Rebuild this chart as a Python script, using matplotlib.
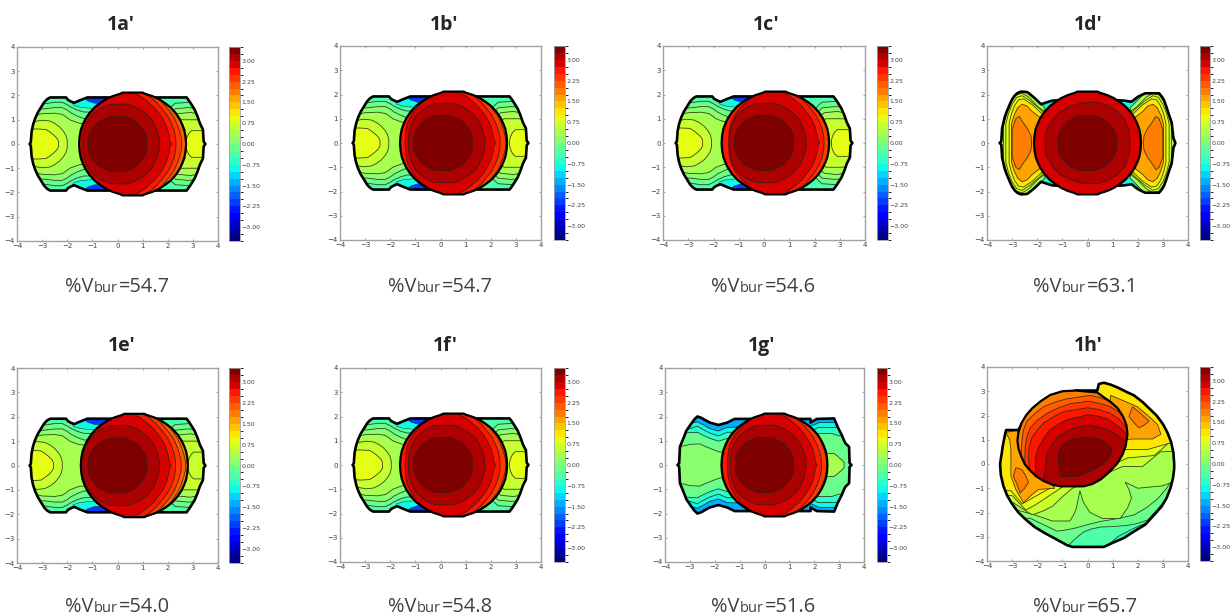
# coding:utf-8

import numpy as np
import matplotlib
matplotlib.use('Agg')
import matplotlib.pyplot as plt
from matplotlib.cm import ScalarMappable
from matplotlib.colors import BoundaryNorm
from matplotlib.ticker import FuncFormatter

# labels
TITLES = ["1a'", "1b'", "1c'", "1d'", "1e'", "1f'", "1g'", "1h'"]
VBUR = ["54.7", "54.7", "54.6", "63.1", "54.0", "54.8", "51.6", "65.7"]
LEVELS = np.arange(-3.5, 3.75, 0.25)
CBAR_TICKS = [3.0, 2.25, 1.5, 0.75, 0.0, -0.75, -1.5, -2.25, -3.0]
AXIS_TICKS = [-4, -3, -2, -1, 0, 1, 2, 3, 4]

# pixel boxes: left, right, top, bottom of plot, then colorbar left, right
BOXES = [
    (17, 218, 47, 241, 229, 240), (340, 541, 46, 240, 554, 565),
    (663, 865, 46, 240, 877, 888), (987, 1188, 46, 240, 1200, 1210),
    (17, 218, 368, 563, 229, 240), (340, 541, 368, 562, 554, 565),
    (665, 864, 368, 562, 877, 887), (987, 1188, 367, 561, 1200, 1210),
]
TITLE_POS = [(121, 25), (444, 25), (766, 25), (1088, 25),
             (122, 346), (445, 346), (762, 346), (1088, 346)]
LABEL_POS = [(118, 292), (441, 292), (764, 292), (1086, 292),
             (118, 612), (441, 612), (764, 612), (1086, 612)]

# central sphere, upper half, one set for panels a b c e f g
SPHERE_TOP = [(-2.13, 0), (-2.11, 0.3), (-2.06, 0.58), (-1.98, 0.8), (-1.88, 1.02), (-1.72, 1.27), (-1.5, 1.52),
              (-1.3, 1.68), (-1.05, 1.85), (-0.8, 1.97), (-0.5, 2.07), (-0.4, 2.12), (0.4, 2.12), (0.5, 2.07),
              (0.8, 1.97), (1.05, 1.85), (1.3, 1.68), (1.5, 1.52), (1.72, 1.27), (1.88, 1.02), (1.98, 0.8),
              (2.06, 0.58), (2.11, 0.3), (2.13, 0)]
CORE = [(-1.17, 0), (-1.15, 0.3), (-1.05, 0.55), (-0.9, 0.75), (-0.7, 0.95), (-0.5, 1.05), (-0.3, 1.13),
        (0.3, 1.13), (0.5, 1.05), (0.7, 0.95), (0.9, 0.75), (1.05, 0.55), (1.15, 0.3), (1.17, 0)]
RING_31 = [(-1.38, 0), (-1.36, 0.4), (-1.28, 0.75), (-1.1, 1.1), (-0.85, 1.35), (-0.6, 1.52), (-0.3, 1.63),
           (0.35, 1.65), (0.6, 1.58), (0.9, 1.42), (1.2, 1.2), (1.42, 0.92), (1.58, 0.55), (1.66, 0.2), (1.68, 0)]
RING_29 = [(-1.45, 0), (-1.43, 0.45), (-1.35, 0.85), (-1.15, 1.25), (-0.85, 1.6), (-0.55, 1.85), (-0.3, 2.05),
           (0.55, 2.15), (0.9, 1.98), (1.2, 1.75), (1.45, 1.52), (1.68, 1.22), (1.85, 0.95), (1.97, 0.68),
           (2.06, 0.35), (2.08, 0.15), (2.16, 0)]
RING_27 = [(-1.7, 0), (-1.7, 1.5), (-0.5, 2.3), (0.9, 2.2), (1.25, 1.98), (1.55, 1.72), (1.8, 1.42), (2.0, 1.15),
           (2.15, 0.85), (2.26, 0.55), (2.32, 0.25), (2.33, 0)]
RING_25 = [(-1.8, 0), (-1.8, 1.6), (-0.5, 2.4), (1.05, 2.25), (1.45, 2.02), (1.75, 1.75), (2.02, 1.42), (2.25, 1.1),
           (2.38, 0.8), (2.48, 0.5), (2.55, 0.2), (2.56, 0)]
RING_21 = [(-1.9, 0), (-1.9, 1.7), (-0.5, 2.5), (1.2, 2.3), (1.6, 2.05), (1.95, 1.75), (2.2, 1.42), (2.42, 1.1),
           (2.55, 0.8), (2.65, 0.5), (2.72, 0.2), (2.73, 0)]

SPHERE_X = [0.6, 0.52, 0.45, 0.0, 0.67, 0.52, 0.4]
CORE_X = [0.0, 0.1, 0.0, 0.0, 0.0, 0.1, 0.0]
RING_X = [0.0, 0.04, 0.05, 0.0, -0.02, 0.04, -0.04]

# side lobes shared by panels a b c e f
BODY_TOP = [(-3.5, 0), (-3.45, 0.07), (-3.42, 0.5), (-3.36, 0.8), (-3.28, 1.05), (-3.17, 1.3), (-3.05, 1.5),
            (-2.92, 1.72), (-2.8, 1.85), (-2.68, 1.92), (-2.05, 1.92), (-1.97, 1.82), (-1.85, 1.75), (-1.72, 1.7),
            (-1.5, 1.8), (-1.2, 1.92), (0, 1.92), (2.05, 1.92), (2.75, 1.92), (2.85, 1.78), (2.95, 1.62),
            (3.07, 1.42), (3.18, 1.15), (3.28, 0.85), (3.4, 0.6), (3.43, 0.1), (3.5, 0)]
NECK_BLUE = [(-1.35, 1.95), (-0.2, 1.95), (-0.2, 1.66), (-0.9, 1.68), (-1.2, 1.78)]
NECK_CYAN = [(-1.85, 1.8), (-1.35, 1.95), (-0.2, 1.95), (-0.2, 1.45), (-1.15, 1.48), (-1.5, 1.52), (-1.75, 1.6)]
BAND_M12 = [(-3.7, 1.62), (-2.9, 1.66), (-2.5, 1.72), (-2.2, 1.72), (-2.0, 1.62), (-1.85, 1.52), (-1.6, 1.4),
            (-1.35, 1.32), (0, 1.3), (2.05, 1.4), (2.15, 1.55), (2.3, 1.68), (2.9, 1.72), (3.7, 1.72)]
BAND_P12 = [(-3.7, 1.42), (-2.9, 1.45), (-2.5, 1.5), (-2.2, 1.5), (-2.0, 1.4), (-1.85, 1.28), (-1.6, 1.15),
            (-1.35, 1.05), (0, 1.0), (2.05, 1.15), (2.15, 1.3), (2.3, 1.45), (2.8, 1.5), (3.7, 1.45)]
BAND_P37 = [(-3.7, 1.1), (-3.3, 1.18), (-3.0, 1.25), (-2.5, 1.27), (-2.2, 1.22), (-2.05, 1.12), (-1.9, 1.0),
            (-1.7, 0.92), (-1.5, 0.85), (0, 0.8), (2.05, 0.9), (2.2, 1.1), (2.4, 1.25), (2.9, 1.3), (3.7, 1.15)]
LEFT_P62 = [(-3.8, 0.92), (-3.35, 0.92), (-3.0, 0.98), (-2.7, 0.95), (-2.5, 0.85), (-2.3, 0.7), (-2.15, 0.52),
            (-2.05, 0.35), (-2.0, 0.15), (-2.0, 0)]
LEFT_P87 = [(-3.8, 0.6), (-3.2, 0.62), (-2.85, 0.6), (-2.7, 0.5), (-2.55, 0.38), (-2.42, 0.25), (-2.35, 0.12),
            (-2.35, 0)]
RIGHT_P62 = [(3.8, 0.95), (3.1, 1.0), (2.5, 1.0), (2.25, 0.8), (2.2, 0)]
RIGHT_P87 = [(3.8, 0.55), (3.3, 0.55), (2.95, 0.55), (2.85, 0.45), (2.78, 0.32), (2.72, 0.12), (2.72, 0)]
LEFT_X = [0.0, -0.06, -0.08, 0.0, -0.2, 0.04]
RIGHT_X = [0.0, 0.03, -0.05, 0.0, 0.08, 0.03]
RIGHT_CAP = [0.875, 0.875, 0.875, 0.0, 0.625, 0.875]

# panel g
G_BODY = [(-3.5, 0), (-3.43, 0.07), (-3.4, 0.75), (-3.3, 1.0), (-3.22, 1.2), (-3.15, 1.4), (-3.05, 1.55), (-2.95, 1.7),
          (-2.82, 1.88), (-2.7, 2.0), (-2.55, 1.95), (-2.38, 1.85), (-2.2, 1.75), (-1.85, 1.65), (-1.5, 1.75),
          (-1.2, 1.9), (0, 1.9), (1.85, 1.9), (1.85, 1.75), (2.1, 1.9), (2.8, 1.92), (2.88, 1.72), (2.95, 1.55),
          (3.1, 1.25), (3.18, 1.05), (3.25, 0.9), (3.4, 0.75), (3.42, 0.08), (3.5, 0)]
G_M87 = [(-3.7, 1.7), (-2.95, 1.72), (-2.7, 1.78), (-2.45, 1.65), (-2.2, 1.5), (-1.85, 1.4), (-1.5, 1.55), (0, 1.6),
         (1.85, 1.6), (2.05, 1.68), (2.2, 1.75), (2.8, 1.75), (3.7, 1.7)]
G_M62 = [(-3.7, 1.5), (-3.0, 1.5), (-2.7, 1.6), (-2.45, 1.45), (-2.2, 1.32), (-1.85, 1.2), (-1.5, 1.35), (1.85, 1.35),
         (2.0, 1.45), (2.15, 1.55), (2.8, 1.55), (3.7, 1.5)]
G_M12 = [(-3.7, 1.3), (-3.1, 1.33), (-2.7, 1.35), (-2.45, 1.22), (-2.2, 1.1), (-1.85, 0.98), (-1.5, 1.1), (1.85, 1.1),
         (2.0, 1.2), (2.15, 1.3), (2.7, 1.3), (3.0, 1.2), (3.7, 1.2)]
G_LEFT = [(-3.7, 0.75), (-3.4, 0.75), (-3.2, 0.8), (-3.0, 0.85), (-2.6, 0.87), (-2.35, 0.75), (-2.1, 0.65),
          (-1.85, 0.55), (-1.6, 0.5), (-1.6, 0)]
G_RIGHT = [(2.5, 0), (2.5, 0.47), (2.8, 0.47), (2.92, 0.38), (3.0, 0.3), (3.12, 0.2), (3.2, 0.1), (3.2, 0)]

# panel d
D_BODY = [(-3.5, 0), (-3.43, 0.07), (-3.4, 0.6), (-3.3, 1.05), (-3.22, 1.28), (-3.15, 1.45), (-3.07, 1.65),
          (-3.0, 1.8), (-2.9, 1.95), (-2.8, 2.05), (-2.65, 2.12), (-2.4, 2.1), (-2.25, 1.98), (-2.1, 1.85),
          (-1.85, 1.6), (-1.7, 1.65), (-1.4, 1.75), (0, 1.8), (1.45, 1.75), (1.75, 1.7), (2.0, 1.9), (2.15, 1.98),
          (2.3, 2.05), (2.85, 2.05), (2.97, 1.9), (3.05, 1.75), (3.13, 1.52), (3.2, 1.3), (3.28, 1.05), (3.35, 0.85),
          (3.42, 0.2), (3.5, 0)]
D_RING_31 = [(-1.7, 0), (-1.65, 0.5), (-1.4, 0.95), (-1.1, 1.3), (-0.6, 1.55), (-0.1, 1.68), (0.4, 1.68),
             (0.8, 1.55), (1.2, 1.3), (1.5, 0.95), (1.65, 0.5), (1.7, 0)]
D_LOBE_37 = [(-3.6, 0), (-3.6, 2.2), (-2.4, 2.2), (-1.7, 1.45), (-1.7, 0)]
D_LOBE_62 = [(-3.34, 0), (-3.34, 0.75), (-3.2, 1.25), (-3.05, 1.7), (-2.85, 1.98), (-2.6, 2.05), (-2.35, 1.9),
             (-1.95, 1.48), (-1.7, 1.3), (-1.7, 0)]
D_LOBE_87 = [(-3.25, 0), (-3.25, 0.8), (-3.15, 1.2), (-3.0, 1.6), (-2.82, 1.88), (-2.6, 1.95), (-2.3, 1.75),
             (-1.9, 1.4), (-1.7, 1.2), (-1.7, 0)]
D_LOBE_112 = [(-3.12, 0), (-3.12, 0.8), (-3.03, 1.2), (-2.9, 1.55), (-2.75, 1.78), (-2.55, 1.82), (-2.2, 1.58),
              (-1.7, 1.1), (-1.7, 0)]
D_LOBE_162 = [(-3.02, 0), (-3.02, 0.8), (-2.92, 1.15), (-2.78, 1.45), (-2.6, 1.6), (-2.4, 1.52), (-2.2, 1.3),
              (-1.7, 0.9), (-1.7, 0)]
D_LOBE_187 = [(-3.0, 0), (-3.0, 0.55), (-2.92, 0.8), (-2.85, 1.0), (-2.72, 1.1), (-2.6, 0.9), (-2.48, 0.72),
              (-2.38, 0.58), (-2.25, 0.3), (-2.22, 0)]

# panel h, no symmetry here
H_BODY = [(-3.48, 0), (-3.42, 0.4), (-3.37, 0.76), (-3.28, 1.23), (-3.24, 1.4), (-2.75, 1.4), (-2.6, 1.7), (-0.48, 3.03),
          (0.39, 3.03), (0.45, 3.3), (0.65, 3.35), (0.9, 3.28), (1.19, 3.16), (1.5, 3.0), (1.85, 2.83), (2.2, 2.55),
          (2.5, 2.25), (2.75, 2.0), (3.0, 1.65), (3.18, 1.3), (3.33, 0.9), (3.42, 0.45), (3.45, 0), (3.45, -0.2),
          (3.4, -0.6), (3.3, -1.0), (3.15, -1.4), (2.95, -1.75), (2.65, -2.1), (2.3, -2.5), (1.9, -2.75), (1.45, -3.05),
          (1.0, -3.25), (0.65, -3.42), (-0.6, -3.42), (-0.81, -3.35), (-1.25, -3.1), (-1.7, -2.85), (-2.1, -2.6),
          (-2.45, -2.3), (-2.75, -2.0), (-3.0, -1.65), (-3.2, -1.3), (-3.35, -0.9), (-3.45, -0.45)]
H_SPHERE = [(-0.48, 3.03), (-1.0, 3.0), (-1.48, 2.85), (-1.85, 2.6), (-2.2, 2.3), (-2.45, 2.0), (-2.62, 1.7), (-2.75, 1.3),
            (-2.79, 0.96), (-2.75, 0.65), (-2.65, 0.35), (-2.5, 0), (-2.3, -0.25), (-2.05, -0.5), (-1.75, -0.7),
            (-1.4, -0.85), (-1.08, -0.92), (-0.15, -0.92), (0.2, -0.82), (0.52, -0.64), (0.85, -0.35), (1.19, 0.03),
            (1.4, 0.4), (1.52, 0.75), (1.59, 1.23), (1.55, 1.6), (1.42, 1.95), (1.2, 2.3), (0.92, 2.56), (0.65, 2.75),
            (0.39, 2.95)]
H_CORE = [(-1.15, 0.49), (-1.05, 0.68), (-0.95, 0.83), (-0.75, 0.95), (-0.55, 1.03), (-0.08, 1.12), (0.39, 1.03),
          (0.6, 0.95), (0.79, 0.83), (0.9, 0.72), (0.99, 0.56), (0.9, 0.38), (0.79, 0.16), (0.55, -0.05), (0.25, -0.24),
          (-0.1, -0.4), (-0.41, -0.51), (-1.08, -0.51), (-1.15, 0.03)]
H_S31 = [(-1.75, -0.65), (-1.68, -0.17), (-1.61, 0.43), (-1.45, 0.75), (-1.21, 1.09), (-0.9, 1.3), (-0.55, 1.49), (0.05, 1.6),
         (0.45, 1.52), (0.79, 1.43), (1.05, 1.27), (1.32, 1.09), (1.7, 0.76), (1.0, -1.2), (-1.75, -1.2)]
H_S29 = [(-2.05, -0.55), (-2.08, 0.03), (-2.05, 0.35), (-1.95, 0.69), (-1.75, 1.05), (-1.48, 1.43), (-1.15, 1.65), (-0.81, 1.83),
         (0, 2.03), (0.4, 1.98), (0.79, 1.87), (1.15, 1.62), (1.45, 1.36), (1.9, 0.8), (1.0, -1.2), (-2.05, -1.2)]
H_S27 = [(-2.3, -0.3), (-2.35, 0.29), (-2.32, 0.7), (-2.21, 1.09), (-2.0, 1.4), (-1.75, 1.69), (-1.35, 1.95), (-0.95, 2.16),
         (0, 2.32), (0.45, 2.25), (0.92, 2.09), (1.25, 1.85), (1.45, 1.6), (1.9, 1.0), (1.0, -1.2), (-2.3, -1.2)]
H_S24 = [(-2.5, 0), (-2.48, 0.69), (-2.42, 1.1), (-2.28, 1.49), (-2.0, 1.8), (-1.61, 2.09), (-1.15, 2.32), (-0.68, 2.49),
         (0.05, 2.59), (0.5, 2.5), (0.92, 2.36), (1.3, 2.1), (1.6, 1.8), (1.9, 1.2), (1.0, -1.2), (-2.5, -1.2)]
H_S21 = [(-2.65, 0.35), (-2.61, 0.96), (-2.55, 1.4), (-2.41, 1.76), (-2.1, 2.08), (-1.75, 2.36), (-1.3, 2.55), (-0.81, 2.69),
         (0.12, 2.83), (0.45, 2.75), (0.79, 2.63), (1.2, 2.35), (1.6, 2.0), (1.9, 1.3), (1.0, -1.2), (-2.65, -1.2)]
H_M37 = [(0.65, -3.5), (1.2, -3.0), (1.85, -2.65), (2.5, -2.35), (3.6, -1.2), (4, 4), (-4, 4), (-4, -4)]
H_M12 = [(-0.81, -3.4), (-0.45, -3.05), (-0.15, -2.8), (0.15, -2.68), (0.52, -2.6), (1.0, -2.58), (1.59, -2.53), (2.0, -2.45),
         (2.39, -2.31), (2.8, -1.85), (3.19, -1.37), (4, -1), (4, 4), (-4, 4), (-4, -4)]
H_P12 = [(-2.28, -2.24), (-1.75, -2.5), (-1.21, -2.77), (-0.85, -2.72), (-0.48, -2.64), (0.0, -2.5), (0.52, -2.37), (1.2, -2.25),
         (1.85, -2.1), (2.35, -1.8), (2.79, -1.44), (3.15, -1.0), (3.45, -0.5), (4, -0.4), (4, 4), (-4, 4), (-4, -2.2)]
H_P37 = [(-2.8, -1.9), (-2.45, -2.0), (-2.1, -2.1), (-1.4, -2.35), (-0.7, -2.35), (-0.55, -2.1), (-0.45, -1.85), (-0.3, -1.1),
         (-0.22, -1.4), (-0.15, -1.6), (0.1, -2.0), (0.6, -2.25), (1.3, -2.25), (1.6, -1.8), (1.75, -1.4), (1.65, -1.05),
         (1.5, -0.75), (2.0, -1.0), (3.0, -0.9), (4, -0.5), (4, 4), (-4, 4), (-4, -1.9)]
H_P62 = [(-2.95, -1.6), (-2.2, -2.1), (-1.8, -1.95), (-1.4, -1.75), (-1.0, -1.35), (-0.6, -1.0), (1.4, -0.1), (2.2, -0.1), (2.55, 0.2),
         (2.9, 0.5), (4, 0.55), (4, 4), (-4, 4), (-4, -1.6)]
H_P87 = [(-3.0, -1.3), (-2.45, -1.9), (-2.1, -1.7), (-1.8, -1.5), (-1.0, -0.95), (1.6, 0.25), (2.65, 0.35), (2.95, 0.6), (3.2, 0.85),
         (4, 0.9), (4, 4), (-4, 4), (-4, -1.3)]
H_P112 = [(-3.05, -1.1), (-2.6, -1.65), (-2.1, -1.35), (-1.4, -0.95), (1.5, 0.6), (2.4, 0.6), (3.0, 0.78), (3.4, 0.9),
          (4, 0.95), (4, 4), (-4, 4), (-4, -1.1)]
H_LEFT_162 = [(-3.25, 1.3), (-3.1, 1.0), (-3.05, 0.6), (-3.05, -0.5), (-2.85, -1.05), (-2.55, -1.6), (-2.25, -1.3), (-1.95, -1.05),
              (-1.3, -1.0), (-2.0, 0), (-2.8, 1.4)]
H_LEFT_187 = [(-2.85, -0.15), (-2.7, -0.2), (-2.6, -0.25), (-2.45, -0.5), (-2.35, -0.75), (-2.5, -1.0), (-2.68, -1.2), (-2.8, -0.85),
              (-2.95, -0.5)]
H_RIGHT_162 = [(0.92, 2.83), (1.45, 2.6), (1.99, 2.36), (2.4, 2.0), (2.79, 1.63), (2.92, 1.23), (2.59, 1.03), (1.85, 1.03), (1.3, 1.0), (0.8, 1.5)]
H_RIGHT_187 = [(1.79, 2.36), (2.1, 2.1), (2.45, 1.76), (2.25, 1.6), (2.05, 1.49), (1.85, 1.7), (1.65, 1.96)]

W, H = 1232, 616
LINE = (0.12, 0.14, 0.08, 0.85)

norm = BoundaryNorm(LEVELS, 256)
mapper = ScalarMappable(norm=norm, cmap='jet')


def mirror(half, dx=0.0):
    xs = [p[0] + dx for p in half]
    ys = [p[1] for p in half]
    return xs + xs[::-1], ys + [-y for y in ys[::-1]]


def flip(half):
    return [(-p[0], p[1]) for p in half]


def unzip(points):
    return [p[0] for p in points], [p[1] for p in points]


def band(ax, level, xy, clip=None, lw=0.6):
    patch = ax.fill(xy[0], xy[1], facecolor=mapper.to_rgba(level), edgecolor=LINE, linewidth=lw)[0]
    if clip is not None:
        patch.set_clip_path(clip)
    return patch


def outline(ax, xy, lw=1.9):
    ax.fill(xy[0], xy[1], facecolor='none', edgecolor='black', linewidth=lw, joinstyle='round')


def neck(ax, level, points, body):
    xs, ys = unzip(points)
    band(ax, level, (xs, ys), body, lw=0.4)
    band(ax, level, (xs, [-y for y in ys]), body, lw=0.4)


def sphere_rings(ax, i):
    base = band(ax, 1.875, mirror(SPHERE_TOP, SPHERE_X[i]), lw=0)
    band(ax, 2.125, mirror(RING_21, RING_X[i]), base)
    band(ax, 2.375, mirror(RING_25, RING_X[i]), base)
    band(ax, 2.625, mirror(RING_27, RING_X[i]), base)
    band(ax, 2.875, mirror(RING_29, RING_X[i]), base)
    band(ax, 3.125, mirror(RING_31, CORE_X[i]), base)
    band(ax, 3.375, mirror(CORE, CORE_X[i]), base)
    outline(ax, mirror(SPHERE_TOP, SPHERE_X[i]), 1.6)


def panel_common(ax, i):
    body = band(ax, -0.375, mirror(BODY_TOP), lw=0)
    band(ax, -0.125, mirror(BAND_M12), body)
    band(ax, 0.125, mirror(BAND_P12), body)
    band(ax, 0.375, mirror(BAND_P37), body)
    neck(ax, -0.875, NECK_CYAN, body)
    neck(ax, -2.125, NECK_BLUE, body)
    band(ax, 0.625, mirror(LEFT_P62, LEFT_X[i]), body)
    band(ax, 0.875, mirror(LEFT_P87, LEFT_X[i]), body)
    band(ax, 0.625, mirror(RIGHT_P62, RIGHT_X[i]), body)
    band(ax, RIGHT_CAP[i], mirror(RIGHT_P87, RIGHT_X[i]), body)
    outline(ax, mirror(BODY_TOP))
    sphere_rings(ax, i)


def panel_d(ax):
    body = band(ax, -0.875, mirror(D_BODY), lw=0)
    lobes = [(0.375, D_LOBE_37), (0.625, D_LOBE_62), (0.875, D_LOBE_87), (1.125, D_LOBE_112),
             (1.625, D_LOBE_162), (1.875, D_LOBE_187)]
    for level, half in lobes:
        band(ax, level, mirror(half), body)
        band(ax, level, mirror(flip(half)), body)
    outline(ax, mirror(D_BODY))
    base = band(ax, 2.875, mirror(SPHERE_TOP), lw=0)
    band(ax, 3.125, mirror(D_RING_31), base)
    band(ax, 3.375, mirror(CORE), base)
    outline(ax, mirror(SPHERE_TOP), 1.6)


def panel_g(ax, i):
    body = band(ax, -1.375, mirror(G_BODY), lw=0)
    band(ax, -0.875, mirror(G_M87), body)
    band(ax, -0.625, mirror(G_M62), body)
    band(ax, -0.125, mirror(G_M12), body)
    band(ax, 0.125, mirror(G_LEFT), body)
    band(ax, 0.375, mirror(G_RIGHT), body)
    outline(ax, mirror(G_BODY))
    sphere_rings(ax, i)


def panel_h(ax):
    body = band(ax, -0.625, unzip(H_BODY), lw=0)
    for level, points in [(-0.375, H_M37), (-0.125, H_M12), (0.125, H_P12), (0.375, H_P37),
                          (0.625, H_P62), (0.875, H_P87), (1.125, H_P112), (1.625, H_LEFT_162),
                          (1.625, H_RIGHT_162), (1.875, H_LEFT_187), (1.875, H_RIGHT_187)]:
        band(ax, level, unzip(points), body)
    outline(ax, unzip(H_BODY))
    base = band(ax, 1.875, unzip(H_SPHERE), lw=0)
    for level, points in [(2.125, H_S21), (2.375, H_S24), (2.625, H_S27), (2.875, H_S29),
                          (3.125, H_S31), (3.375, H_CORE)]:
        band(ax, level, unzip(points), base)
    outline(ax, unzip(H_SPHERE), 1.6)


def vbur_label(fig, x, y, value):
    # "bur" is a smaller run on the same baseline, so three texts side by side
    renderer = fig.canvas.get_renderer()
    parts = [('%V', 14.4), ('bur', 10.5), ('=' + value, 14.4)]
    texts = []
    for s, size in parts:
        texts.append(fig.text(0, 1 - y / H, s, family='Open Sans', fontsize=size, ha='left',
                              va='baseline', color='#404040'))
    widths = [t.get_window_extent(renderer).width + 1 for t in texts]
    cursor = x - sum(widths) / 2
    for t, w in zip(texts, widths):
        t.set_x(cursor / W)
        cursor += w


cbar_fmt = FuncFormatter(lambda v, p: ('%.2f' % v).replace('-', '\u2212'))

fig = plt.figure(figsize=(W / 100, H / 100), dpi=100)

for i, box in enumerate(BOXES):
    left, right, top, bottom, cleft, cright = box
    ax = fig.add_axes([left / W, 1 - bottom / H, (right - left) / W, (bottom - top) / H])
    if i == 3:
        panel_d(ax)
    elif i == 6:
        panel_g(ax, 6)
    elif i == 7:
        panel_h(ax)
    else:
        panel_common(ax, i)
    ax.set_xlim(-4, 4)
    ax.set_ylim(-4, 4)
    ax.set_xticks(AXIS_TICKS)
    ax.set_yticks(AXIS_TICKS)
    ax.tick_params(direction='in', length=1.5, width=0.5, labelsize=5, color='#808080',
                   labelcolor='#404040', pad=1.5, top=True, right=True)
    for spine in ax.spines.values():
        spine.set_color('#a0a0a0')
        spine.set_linewidth(1.0)

    cax = fig.add_axes([cleft / W, 1 - bottom / H, (cright - cleft) / W, (bottom - top) / H])
    cbar = fig.colorbar(mapper, cax=cax, ticks=CBAR_TICKS, format=cbar_fmt, spacing='proportional')
    cbar.ax.tick_params(length=0, labelsize=4.5, labelcolor='#404040', pad=1.2)
    cbar.outline.set_edgecolor('#a0a0a0')
    cbar.outline.set_linewidth(0.6)

    fig.text(TITLE_POS[i][0] / W, 1 - TITLE_POS[i][1] / H, TITLES[i], family='Open Sans', weight='bold',
             fontsize=14, ha='center', va='center', color='#262626')
    vbur_label(fig, LABEL_POS[i][0], LABEL_POS[i][1], VBUR[i])

fig.savefig('out.png', dpi=100)
